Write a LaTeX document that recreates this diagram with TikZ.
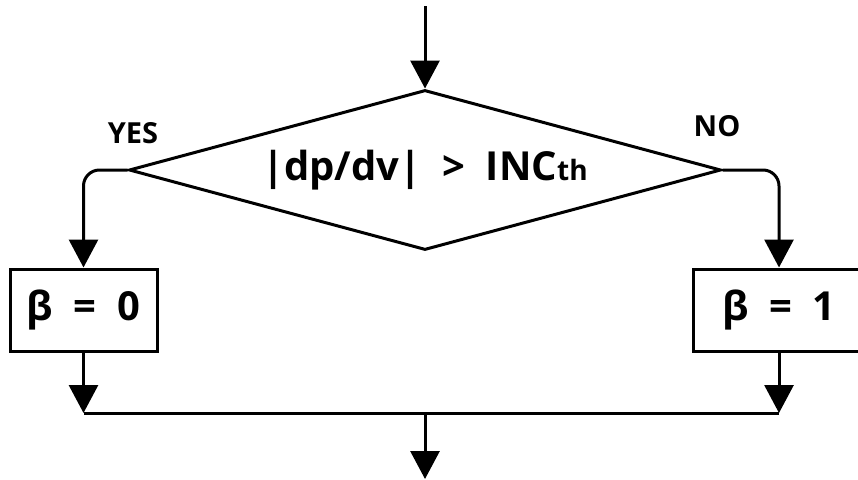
\documentclass[tikz,border=0pt]{standalone}
\usepackage{fontspec}
\setmainfont{Open Sans}
\usetikzlibrary{arrows.meta,shapes.geometric}
\begin{document}
\begin{tikzpicture}[x=1pt,y=-1pt,
  flow/.style={line width=3pt,-{Triangle[width=29pt,length=28pt]}},
  line/.style={line width=3pt},
  decision/.style={diamond,draw,line width=3pt,inner sep=0pt,shape aspect=3.7,
    minimum width=592pt,minimum height=160pt,font=\bfseries\fontsize{40}{44}\selectfont},
  valbox/.style={rectangle,draw,line width=3pt,inner sep=0pt,
    minimum height=82pt,font=\bfseries\fontsize{40}{44}\selectfont},
  branch/.style={font=\bfseries\fontsize{29}{32}\selectfont}]
\path[use as bounding box,clip] (0,0) rectangle (858,479);

\coordinate (in) at (425,6);
\node[decision] (dec) at (425,170) {|dp/dv|\ \ >\ \ INC{\fontsize{28}{30}\selectfont th}};
\node[valbox,minimum width=147pt] (b0) at (83.5,310) {β\ \ =\ \ 0};
\node[valbox,minimum width=172pt] (b1) at (779,310) {β\ \ =\ \ 1};
\node[branch] (yes) at (133,133) {YES};
\node[branch] (no) at (717,126) {NO};
\coordinate (j0) at (83.5,413);
\coordinate (j1) at (779,413);
\coordinate (jm) at (425,413);
\coordinate (out) at (425,479);

\draw[flow] (in) -- (dec.north);
\draw[flow,rounded corners=16pt] (dec.west) -| (b0.north);
\draw[flow,rounded corners=16pt] (dec.east) -| (b1.north);
\draw[flow] (b0.south) -- (j0);
\draw[flow] (b1.south) -- (j1);
\draw[line] (j0) -- (j1);
\draw[flow] (jm) -- (out);
\end{tikzpicture}
\end{document}
